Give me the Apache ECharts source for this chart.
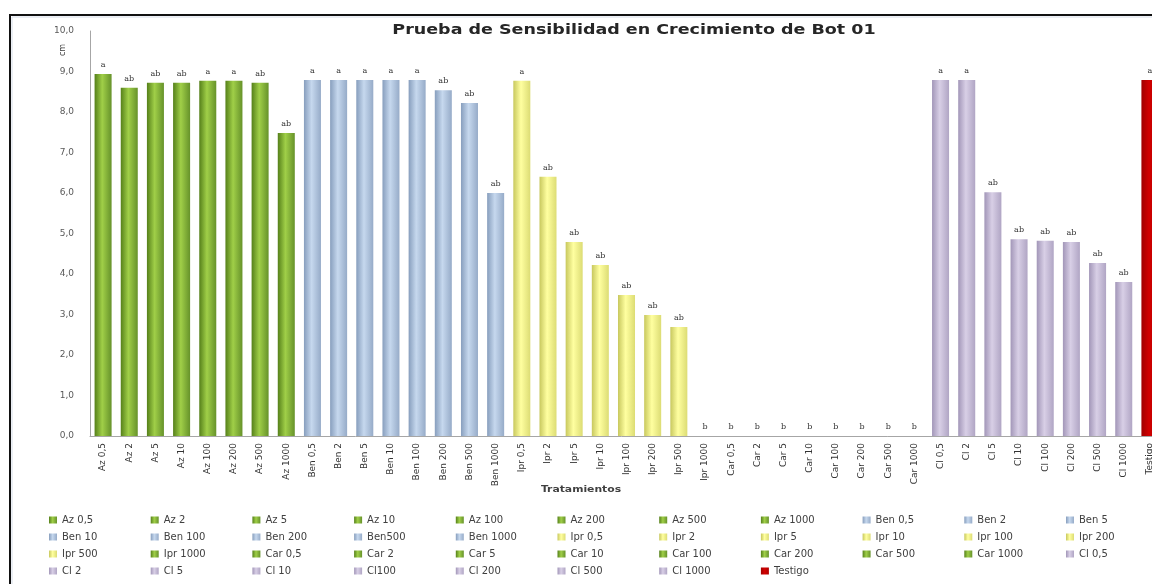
<!DOCTYPE html>
<html>
<head>
<meta charset="utf-8">
<script src="https://cdn.jsdelivr.net/npm/echarts@6/dist/echarts.min.js"></script>
<style>
  html, body { margin: 0; padding: 0; background: #fff; }
  #chart { width: 1152px; height: 584px; }
</style>
</head>
<body>
<div id="chart"></div>
<script>
// axis categories, one bar each
const categories = [
    'Az 0,5', 'Az 2', 'Az 5', 'Az 10', 'Az 100', 'Az 200', 'Az 500', 'Az 1000',
    'Ben 0,5', 'Ben 2', 'Ben 5', 'Ben 10', 'Ben 100', 'Ben 200', 'Ben 500', 'Ben 1000',
    'Ipr 0,5', 'Ipr 2', 'Ipr 5', 'Ipr 10', 'Ipr 100', 'Ipr 200', 'Ipr 500', 'Ipr 1000',
    'Car 0,5', 'Car 2', 'Car 5', 'Car 10', 'Car 100', 'Car 200', 'Car 500', 'Car 1000',
    'Cl 0,5', 'Cl 2', 'Cl 5', 'Cl 10', 'Cl 100', 'Cl 200', 'Cl 500', 'Cl 1000',
    'Testigo'
];
// legend text (slightly different spelling in two places, as in the original)
const legendNames = [
    'Az 0,5', 'Az 2', 'Az 5', 'Az 10', 'Az 100', 'Az 200', 'Az 500', 'Az 1000',
    'Ben 0,5', 'Ben 2', 'Ben 5', 'Ben 10', 'Ben 100', 'Ben 200', 'Ben500', 'Ben 1000',
    'Ipr 0,5', 'Ipr 2', 'Ipr 5', 'Ipr 10', 'Ipr 100', 'Ipr 200', 'Ipr 500', 'Ipr 1000',
    'Car 0,5', 'Car 2', 'Car 5', 'Car 10', 'Car 100', 'Car 200', 'Car 500', 'Car 1000',
    'Cl 0,5', 'Cl 2', 'Cl 5', 'Cl 10', 'Cl100', 'Cl 200', 'Cl 500', 'Cl 1000',
    'Testigo'
];
// growth (cm)
const growth = [
    8.94, 8.60, 8.72, 8.72, 8.77, 8.77, 8.72, 7.48,
    8.79, 8.79, 8.79, 8.79, 8.79, 8.54, 8.22, 6.00,
    8.77, 6.40, 4.79, 4.22, 3.48, 2.99, 2.69, 0,
    0, 0, 0, 0, 0, 0, 0, 0,
    8.79, 8.79, 6.02, 4.86, 4.82, 4.79, 4.27, 3.80,
    8.79
];
// significance letters above the bars
const letters = [
    'a', 'ab', 'ab', 'ab', 'a', 'a', 'ab', 'ab',
    'a', 'a', 'a', 'a', 'a', 'ab', 'ab', 'ab',
    'a', 'ab', 'ab', 'ab', 'ab', 'ab', 'ab', 'b',
    'b', 'b', 'b', 'b', 'b', 'b', 'b', 'b',
    'a', 'a', 'ab', 'ab', 'ab', 'ab', 'ab', 'ab',
    'a'
];
const yTicks = [0, 1, 2, 3, 4, 5, 6, 7, 8, 9, 10];

const PALETTE = {
    green:    ['#55801a', '#a0cf48', '#66922a'],
    blue:     ['#879ebd', '#c6d8ee', '#96abc8'],
    yellow:   ['#c8c85e', '#ffffa0', '#dcdc74'],
    lavender: ['#a296b8', '#d8cfe6', '#b0a5c4'],
    red:      ['#a00000', '#d20000', '#b00000'],
};

function paletteFor(name) {
    if (name === 'Testigo') return PALETTE.red;
    if (name === 'Ipr 1000') return PALETTE.green;   // legend shows it green
    if (name.startsWith('Ben')) return PALETTE.blue;
    if (name.startsWith('Ipr')) return PALETTE.yellow;
    if (name.startsWith('Cl')) return PALETTE.lavender;
    return PALETTE.green;   // Az, Car
}

function cylinder(c) {
    return new echarts.graphic.LinearGradient(0, 0, 1, 0, [
        { offset: 0, color: c[0] },
        { offset: 0.45, color: c[1] },
        { offset: 1, color: c[2] },
    ]);
}

const series = legendNames.map((name, i) => ({
    type: 'bar',
    name,
    stack: 'all',
    barWidth: '65%',
    data: categories.map((_, j) => (j === i ? growth[i] : null)),
    itemStyle: { color: cylinder(paletteFor(name)) },
    label: {
        show: true,
        position: 'top',
        distance: 5,
        fontFamily: 'DejaVu Serif',
        fontSize: 8,
        color: '#333',
        formatter: () => letters[i],
    },
}));

// legend laid out in 11 fixed-width columns, 4 rows
const COLS = 11;
const legends = [];
for (let c = 0; c < COLS; c++) {
    const names = legendNames.filter((_, i) => i % COLS === c);
    legends.push({
        left: 44 + c * 101.7,
        top: 510,
        orient: 'vertical',
        itemWidth: 8,
        itemHeight: 7,
        itemGap: 7,
        icon: 'rect',
        data: names,
        textStyle: {
            fontFamily: 'DejaVu Sans',
            fontSize: 10,
            lineHeight: 10,
            color: '#404040',
        },
        selectedMode: false,
    });
}

const chart = echarts.init(document.getElementById('chart'), null, { renderer: 'canvas' });
chart.setOption({
    animation: false,
    backgroundColor: '#fff',
    legend: legends,
    // plot runs past the right edge: the original screenshot is cropped there
    grid: { left: 90, top: 31, width: 1073, bottom: 148, outerBoundsMode: 'none', containLabel: false },
    xAxis: {
        type: 'category',
        data: categories,
        axisLine: { lineStyle: { color: '#a6a6a6' } },
        axisTick: { show: false },
        axisLabel: {
            interval: 0,
            rotate: 90,
            margin: 7,
            fontFamily: 'DejaVu Sans',
            fontSize: 9,
            color: '#333',
        },
    },
    yAxis: {
        type: 'value',
        min: yTicks[0],
        max: yTicks[yTicks.length - 1],
        interval: 1,
        splitLine: { show: false },
        axisLine: { show: true, lineStyle: { color: '#a6a6a6' } },
        axisTick: { show: false },
        axisLabel: {
            margin: 16,
            fontFamily: 'DejaVu Sans',
            fontSize: 9,
            color: '#595959',
            formatter: (v) => v.toFixed(1).replace('.', ','),
        },
    },
    graphic: [
        // screenshot frame
        { type: 'rect', shape: { x: 9, y: 14, width: 1150, height: 2 }, style: { fill: '#111' }, silent: true },
        { type: 'rect', shape: { x: 9, y: 14, width: 2, height: 580 }, style: { fill: '#111' }, silent: true },
        { type: 'rect', shape: { x: 12, y: 17, width: 1150, height: 580 }, style: { fill: 'none', stroke: '#d6dde8', lineWidth: 1 }, silent: true },
        {
            type: 'text', x: 634, y: 30, scaleX: 1.25,
            style: {
                text: 'Prueba de Sensibilidad en Crecimiento de Bot 01',
                fontFamily: 'DejaVu Sans', fontWeight: 'bold', fontSize: 14, fill: '#262626',
                align: 'center', verticalAlign: 'middle',
            },
        },
        {
            type: 'text', x: 63, y: 50, rotation: Math.PI / 2,
            style: { text: 'cm', fontFamily: 'DejaVu Sans', fontSize: 8, fill: '#404040', align: 'center', verticalAlign: 'middle' },
        },
        {
            type: 'text', x: 581, y: 490, scaleX: 1.2,
            style: { text: 'Tratamientos', fontFamily: 'DejaVu Sans', fontSize: 9, fontWeight: 'bold', fill: '#404040', align: 'center', verticalAlign: 'middle' },
        },
    ],
    series,
});
</script>
</body>
</html>
